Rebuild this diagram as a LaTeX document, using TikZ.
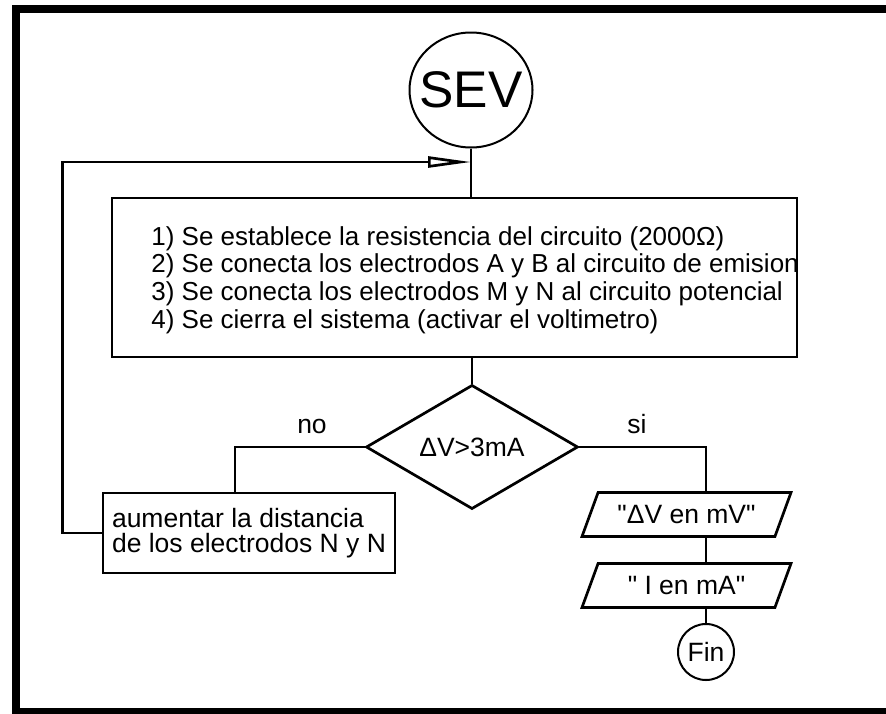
\documentclass[tikz,border=0pt]{standalone}
\usepackage{fontspec}
\setmainfont{Liberation Sans}
\usetikzlibrary{shapes.geometric,arrows.meta}
\begin{document}
\begin{tikzpicture}[x=1pt, y=-1pt, line width=2.7pt,
	font=\fontsize{26.5}{27.7}\selectfont,
	box/.style={draw, rectangle, inner sep=0pt},
	io/.style={draw, trapezium, trapezium left angle=49, trapezium right angle=131, trapezium stretches body, minimum width=209pt, minimum height=44pt, inner sep=0pt},
	term/.style={draw, line width=2pt, inner sep=0pt},
	back/.style={-{Triangle[open, length=43pt, width=11pt]}}]
	\def \W{886};
	\def \H{713};
	\useasboundingbox (0,0) rectangle (\W,\H);
	\draw[line width=8pt] (15.5,9) rectangle (\W+10,\H-1);
	\node[term, ellipse, minimum width=123pt, minimum height=115pt, inner sep=-10pt, font=\fontsize{51.5}{60}\selectfont] (sev) at (471,90) {SEV};
	\node[box, minimum width=685pt, minimum height=159pt] (steps) at (454.5,277.5) {};
	\node[anchor=west, align=left, inner sep=0pt, font=\fontsize{26}{27.7}\selectfont] (stepstext) at (150,280) {1) Se establece la resistencia del circuito (2000Ω)\\2) Se conecta los electrodos A y B al circuito de emision\\3) Se conecta los electrodos M y N al circuito potencial\\4) Se cierra el sistema (activar el voltimetro)};
	\node[draw, diamond, minimum width=212pt, minimum height=88pt, inner sep=0pt] (dec) at (472,447) {ΔV>3mA};
	\node[box, align=left, minimum width=292pt, minimum height=80pt, font=\fontsize{26.5}{25}\selectfont] (grow) at (249,533) {aumentar la distancia\\[-0.5pt]de los electrodos N y N};
	\node[io] (outv) at (686.5,514.5) {\textquotedbl ΔV en mV\textquotedbl};
	\node[io] (outi) at (686.5,585.5) {\textquotedbl{} I en mA\textquotedbl};
	\node[term, circle, minimum size=56pt] (fin) at (706,652) {Fin};
	\node[anchor=base] (no) at (312,433) {no};
	\node[anchor=base] (si) at (637,433) {si};
	\coordinate (merge) at (471,162);
	\draw (sev.south) -- (sev.south |- steps.north);
	\draw (dec.north |- steps.south) -- (dec.north);
	\draw (dec.west) -| ([xshift=-14pt]grow.north);
	\draw[back] (grow.west) -- ++(-39,0) |- (merge);
	\draw (dec.east) -| (outv.north -| fin);
	\draw (outv.south -| fin) -- (outi.north -| fin);
	\draw (outi.south -| fin) -- (fin.north);
\end{tikzpicture}
\end{document}
